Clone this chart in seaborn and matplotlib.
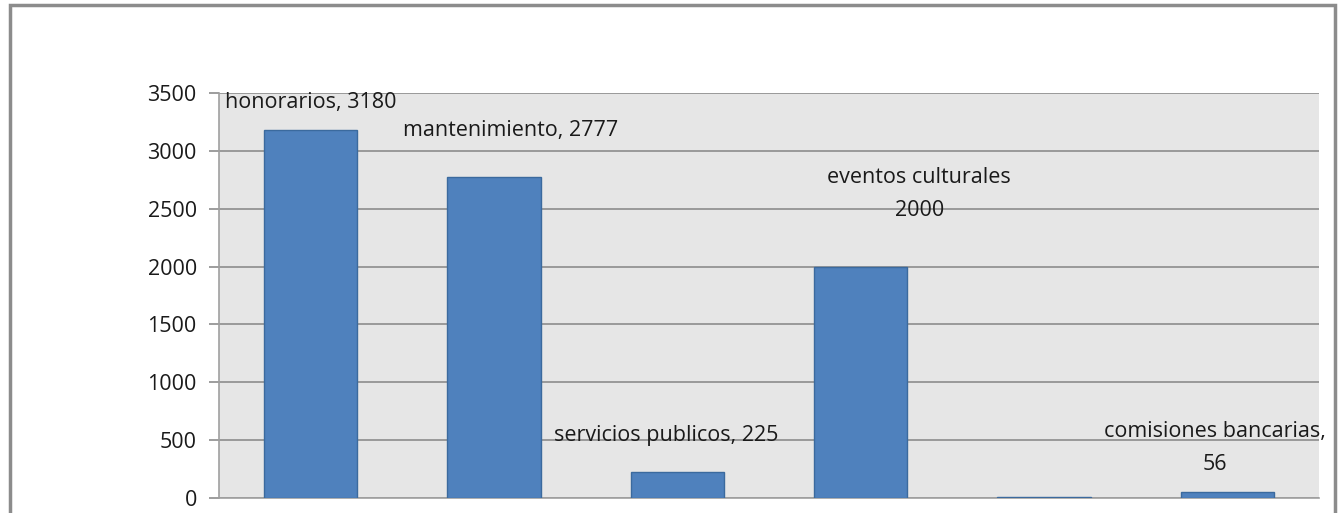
import pandas as pd
import seaborn as sns
import matplotlib.pyplot as plt
from matplotlib.patches import Rectangle

# data
categories = ['honorarios', 'mantenimiento', 'servicios publicos', 'eventos culturales', 'otros', 'comisiones bancarias']
values = [3180, 2777, 225, 2000, 12, 56]
label_texts = ['honorarios, 3180', 'mantenimiento, 2777', 'servicios publicos, 225',
               'eventos culturales\n2000', None, 'comisiones bancarias,\n56']
y_ticks = [0, 500, 1000, 1500, 2000, 2500, 3000, 3500]

# where Excel had placed the data labels (category offset, value units)
label_pos = [(0.0, 3414), (1.09, 3172), (1.94, 544), (3.32, 2627), None, (4.93, 428)]

df = pd.DataFrame({'category': categories, 'value': values})

sns.set_theme(style='white')
plt.rcParams['font.family'] = ['Open Sans', 'DejaVu Sans']

fig = plt.figure(figsize=(13.4, 5.13), dpi=100)
ax = fig.add_axes([219 / 1340, 15 / 513, 1100 / 1340, 405 / 513])

sns.barplot(data=df, x='category', y='value', color='#4f81bd', width=0.51,
            edgecolor='#3b6a9e', linewidth=1, saturation=1, ax=ax, zorder=3)

ax.set_facecolor('#e6e6e6')
ax.set_ylim(0, 3500)
ax.set_xlim(-0.5, len(categories) - 0.5)
ax.set_yticks(y_ticks)
ax.set_yticklabels([str(t) for t in y_ticks], fontsize=15.5, color='#1a1a1a')
ax.yaxis.grid(True, color='#8c8c8c', linewidth=1.2, zorder=0)
ax.set_axisbelow(True)
ax.tick_params(axis='y', which='both', left=True, length=7, width=1.2, color='#8c8c8c', pad=9)
ax.set_xticks([])
ax.set_xlabel('')
ax.set_ylabel('')
for side in ['top', 'right']:
    ax.spines[side].set_visible(False)
for side in ['left', 'bottom']:
    ax.spines[side].set_color('#a0a0a0')
    ax.spines[side].set_linewidth(1.2)

for txt, pos in zip(label_texts, label_pos):
    if txt is None:
        continue
    ax.text(pos[0], pos[1], txt, ha='center', va='center', fontsize=15.5,
            color='#1a1a1a', linespacing=1.75, zorder=5)

# outer chart frame
fig.patches.append(Rectangle((10 / 1340, -0.05), 1325 / 1340, 1.05 - 5 / 513,
                             transform=fig.transFigure, fill=False,
                             edgecolor='#8c8c8c', linewidth=2.5))

fig.savefig('out.png', dpi=100)
